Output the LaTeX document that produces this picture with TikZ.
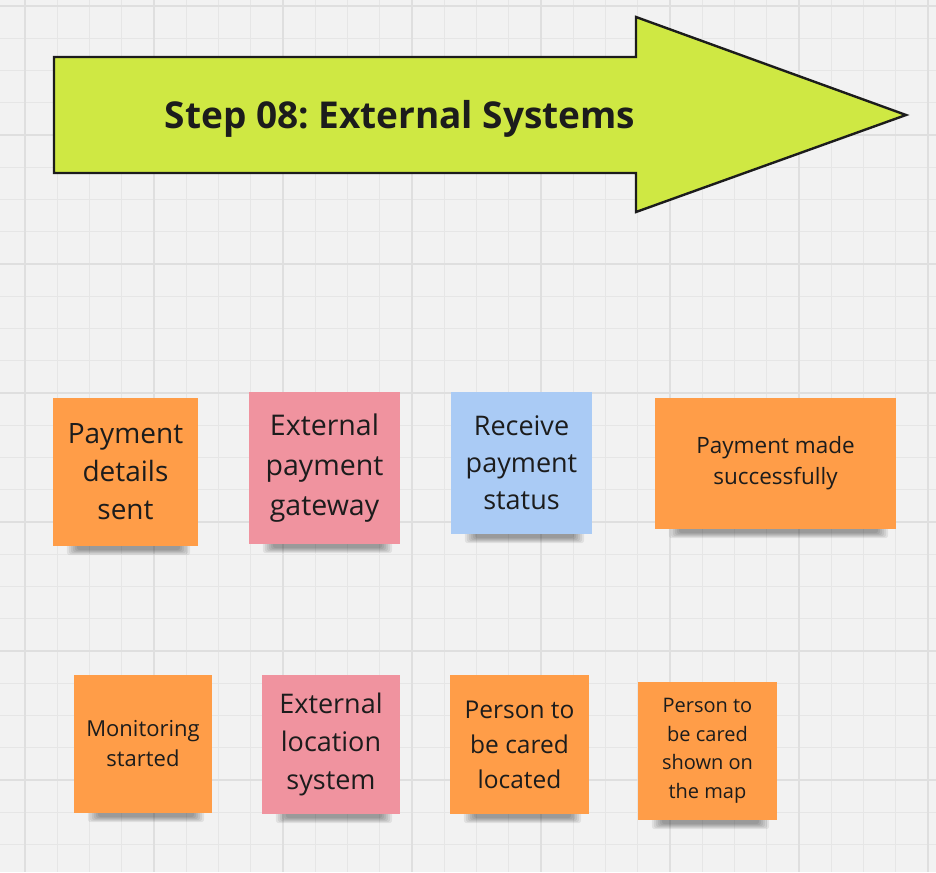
\documentclass[tikz,border=0pt]{standalone}
\usepackage{fontspec}
\setmainfont{Open Sans}
\usetikzlibrary{calc,backgrounds}
\frenchspacing

\definecolor{canvas}{HTML}{F2F2F2}
\definecolor{gridline}{HTML}{E6E6E6}
\definecolor{lime}{HTML}{CFE843}
\definecolor{orangenote}{HTML}{FF9D48}
\definecolor{pinknote}{HTML}{F0939F}
\definecolor{bluenote}{HTML}{AACBF5}
\definecolor{ink}{HTML}{1C1C1C}

\begin{document}
\begin{tikzpicture}[x=1pt,y=-1pt,
  note/.style 2 args={inner sep=0pt,minimum width=#1pt,minimum height=#2pt,align=center,text=ink},
  txt/.style 2 args={font=\fontsize{#1}{#2}\selectfont}]

\useasboundingbox (0,0) rectangle (936,872);

% canvas and grid
\begin{pgfonlayer}{background}
\fill[canvas] (0,0) rectangle (936,872);
\foreach \k in {0,...,29}
  \draw[gridline,line width=1pt] ({-7.25+32.25*\k},0) -- ({-7.25+32.25*\k},872);
\foreach \k in {0,...,27}
  \draw[gridline,line width=1pt] (0,{6+32.25*\k}) -- (936,{6+32.25*\k});
\foreach \k in {0,...,7}
  \draw[gridline!97!black,line width=2pt] ({25+129*\k},0) -- ({25+129*\k},872);
\foreach \k in {0,...,6}
  \draw[gridline!97!black,line width=2pt] (0,{6+129*\k}) -- (936,{6+129*\k});
\end{pgfonlayer}

% step arrow
\draw[fill=lime,line width=2.4pt,line join=miter,draw=ink] (54,57) -- (636,57) -- (636,17) -- (906,115)
  -- (636,212) -- (636,173) -- (54,173) -- cycle;
\node[text=ink,font=\bfseries\fontsize{37}{44}\selectfont] (title) at (400,119) {Step 08: External Systems};

% payment row
\node[note={145}{148},fill=orangenote,txt={28}{38}] (pds) at (125.5,472) {Payment\\details\\sent};
\node[note={151}{152},fill=pinknote,txt={28.5}{40}] (epg) at (324.5,468) {External\\payment\\gateway};
\node[note={141}{142},fill=bluenote,txt={27}{37}] (rps) at (521.5,463) {Receive\\payment\\status};
\node[note={241}{131},fill=orangenote,txt={22.5}{31}] (pms) at (775.5,463.5) {Payment made\\successfully};

% location row
\node[note={138}{138},fill=orangenote,txt={22}{30}] (mst) at (143,744) {Monitoring\\started};
\node[note={138}{139},fill=pinknote,txt={27}{38}] (els) at (331,744.5) {External\\location\\system};
\node[note={139}{139},fill=orangenote,txt={24.5}{35}] (pcl) at (519.5,744.5) {Person to\\be cared\\located};
\node[note={139}{138},fill=orangenote,txt={20}{28.5}] (psm) at (707.5,751) {Person to\\be cared\\shown on\\the map};

% shadows under the notes
\begin{pgfonlayer}{background}
\foreach \n in {pds,epg,rps,pms,mst,els,pcl,psm}
  \foreach \i in {0,...,5}
    \fill[black,opacity=.07,rounded corners=3pt] ($(\n.south west)+(14+2*\i,-3)$) rectangle ($(\n.south east)+(-8-2*\i,9-\i)$);
\end{pgfonlayer}

\end{tikzpicture}
\end{document}
